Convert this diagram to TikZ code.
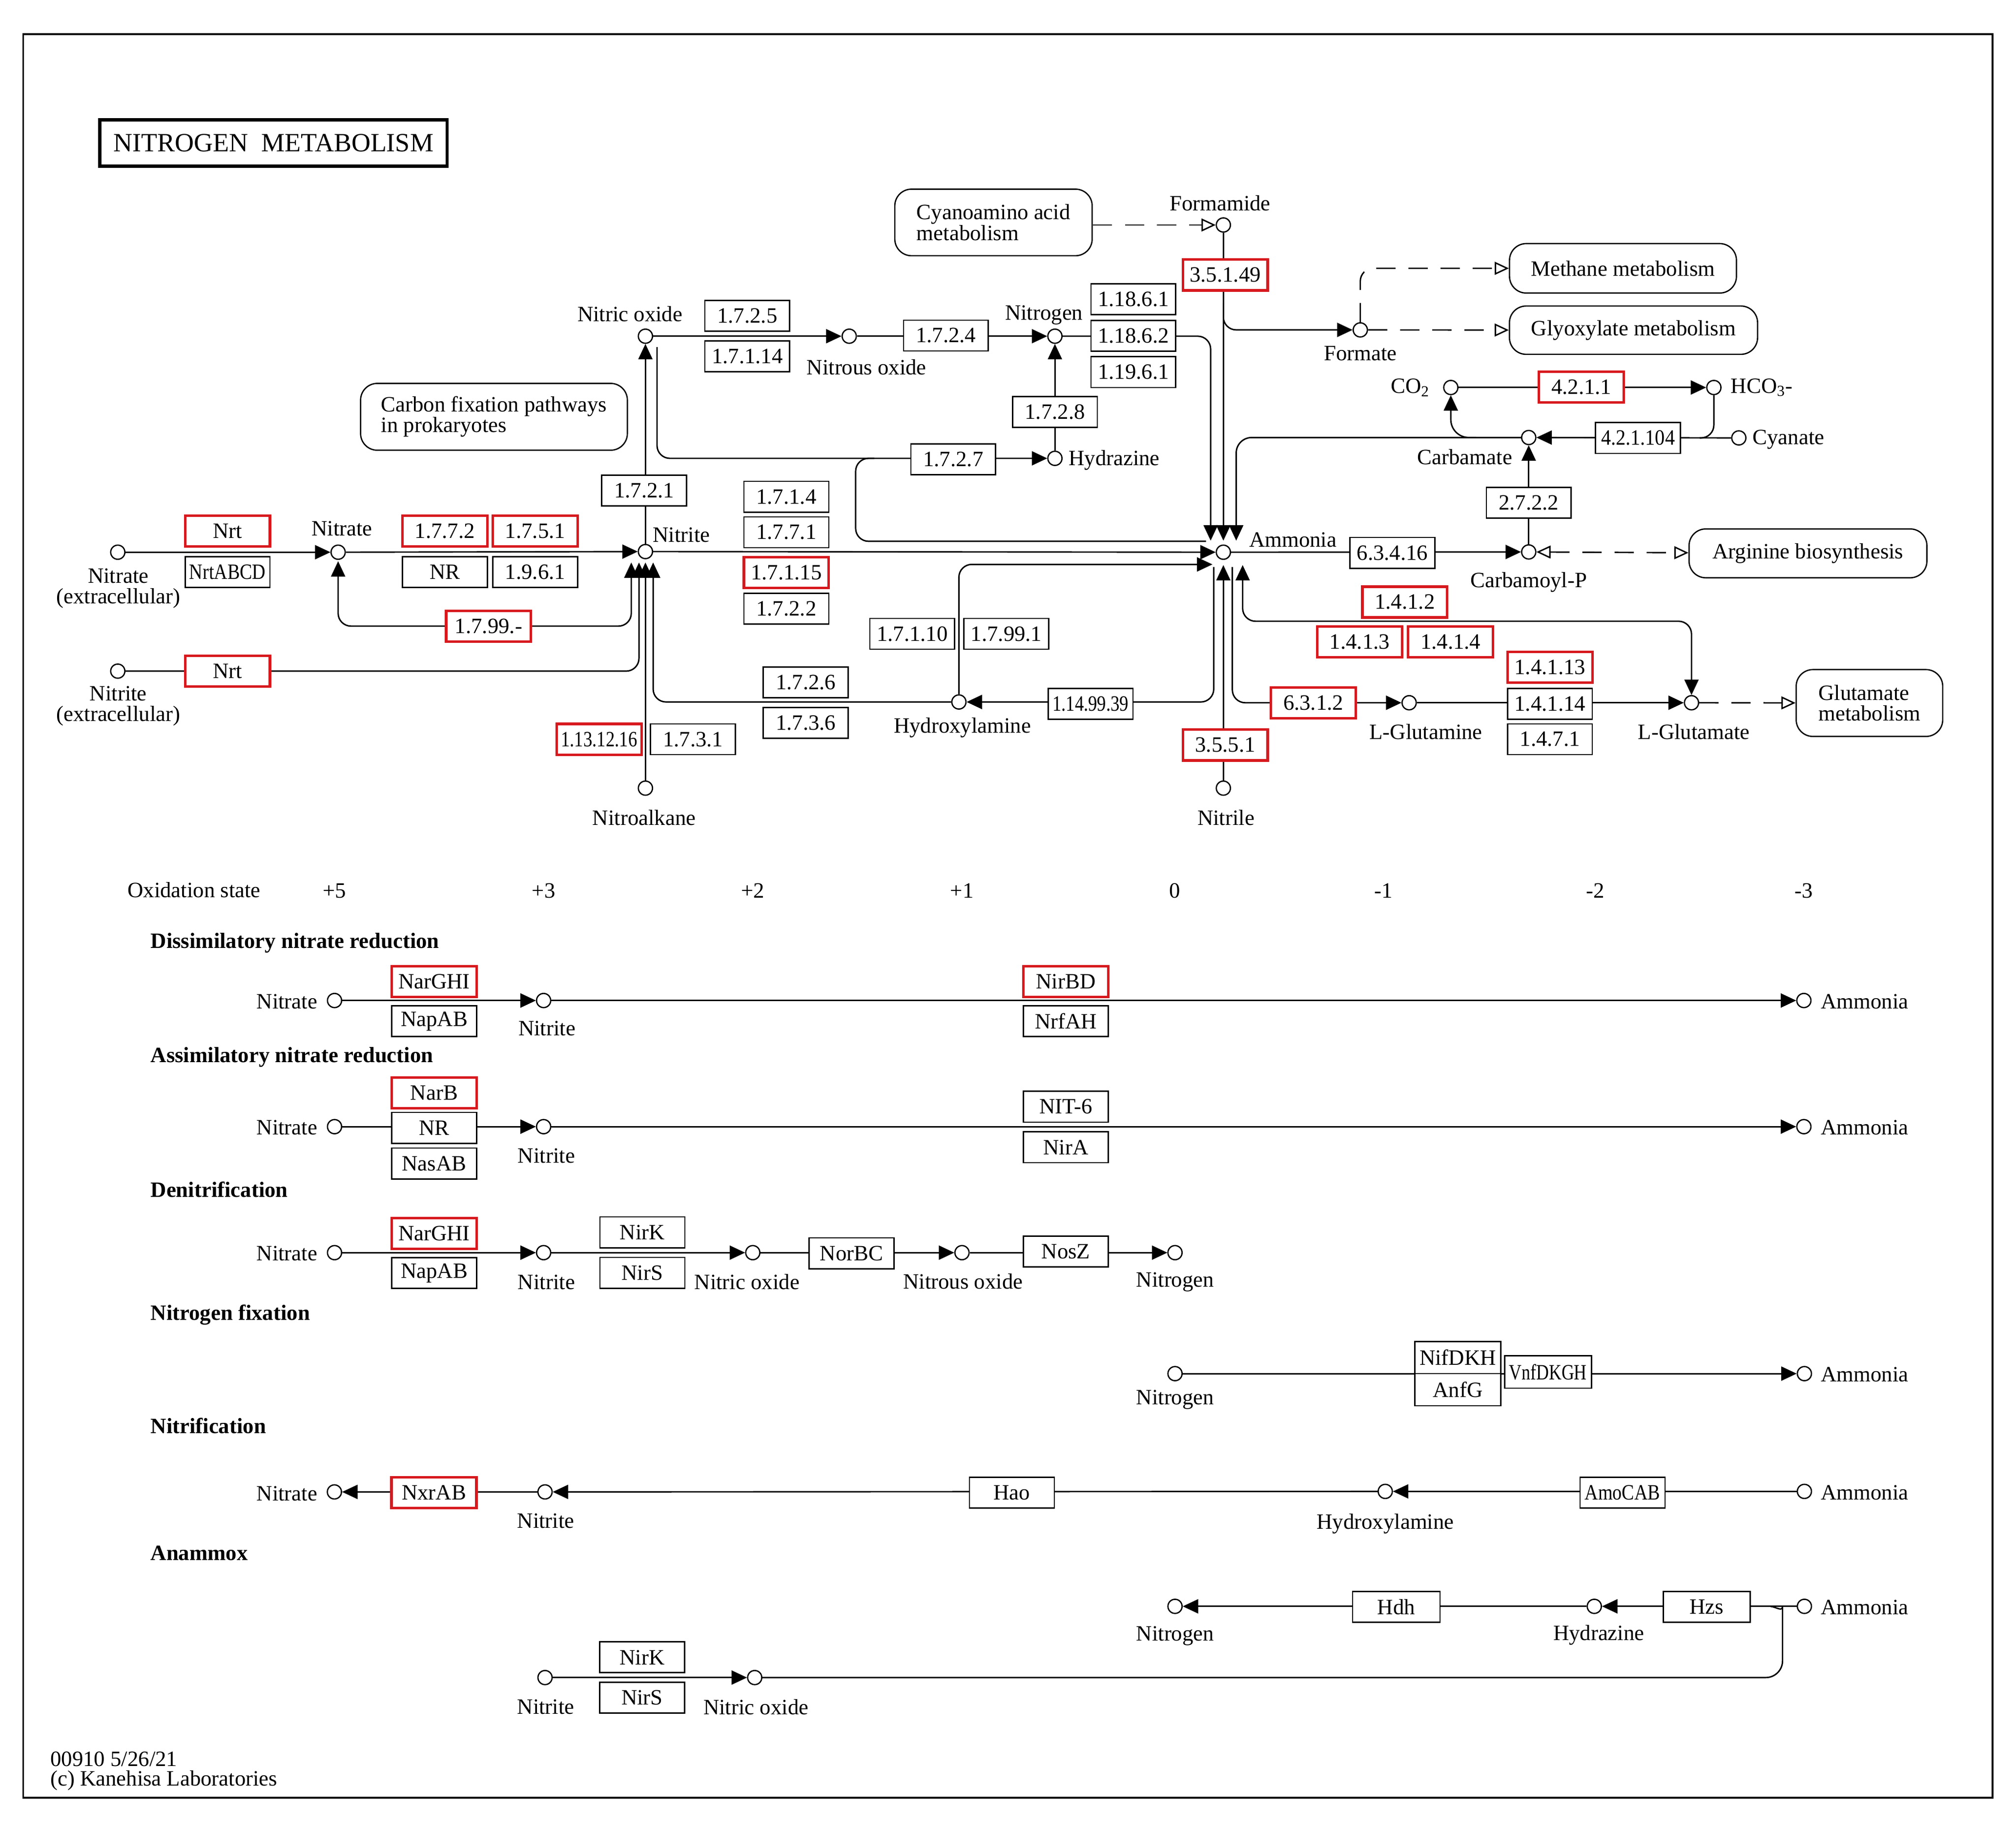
\documentclass[tikz,border=0pt]{standalone}
\usepackage{fontspec}
\setmainfont{Liberation Serif}
\usepackage{graphicx}
\usetikzlibrary{arrows.meta}
\pgfdeclarelayer{back}
\pgfdeclarelayer{bg}
\pgfsetlayers{back,bg,main}
\newcommand\fs{\fontsize{17}{16}\selectfont}
\newcommand\sq[2][0.8]{\scalebox{#1}[1]{#2}}
\definecolor{keggred}{RGB}{215,25,30}
\begin{document}
\begin{tikzpicture}[x=1pt,y=-1pt,
  every node/.style={font=\fs,inner sep=0pt},
  cpd/.style={circle,draw,line width=1pt,fill=white,minimum size=11pt},
  enz/.style={rectangle,draw,line width=1pt,fill=white,minimum width=66pt,minimum height=24pt},
  enzr/.style={enz,draw=keggred,line width=2pt},
  mapbox/.style={rectangle,rounded corners=13pt,draw,line width=1pt,fill=white,align=left},
  head/.style={anchor=west,font=\fs\bfseries},
  ln/.style={line width=1.1pt},
  arr/.style={ln,-{Triangle[length=12pt,width=11pt]}},
  arrb/.style={ln,{Triangle[length=12pt,width=11pt]}-{Triangle[length=12pt,width=11pt]}},
  darr/.style={ln,dash pattern=on 15pt off 10pt,-{Triangle[open,length=11pt,width=10pt]}},
  darrb/.style={ln,dash pattern=on 15pt off 10pt,{Triangle[open,length=11pt,width=10pt]}-{Triangle[open,length=11pt,width=10pt]}},
]
\useasboundingbox (0,0) rectangle (1568,1421.8);
\begin{pgfonlayer}{back}
\fill[white] (0,0) rectangle (1568,1421.8);
\end{pgfonlayer}

% frame and title
\draw[line width=1.3pt] (18,26.5) rectangle (1549.7,1398.3);
\node[draw,line width=2.5pt,minimum width=270pt,minimum height=36pt] (title) at (212.7,111.2)
  {\fontsize{20.5}{21}\selectfont NITROGEN\ \ METABOLISM};

% ---------------- main map: compounds ----------------
\node[cpd] (nateext) at (91.6,429.5) {};
\node[align=center] (lnateext) at (92,457.5) {Nitrate\\(extracellular)};
\node[cpd] (niteext) at (91.6,522) {};
\node[align=center] (lniteext) at (92,549) {Nitrite\\(extracellular)};
\node[cpd] (nate) at (263,429.5) {};
\node (lnate) at (266,411) {Nitrate};
\node[cpd] (nite) at (502,429) {};
\node (lnite) at (530,416) {Nitrite};
\node[cpd] (no) at (502,261.5) {};
\node (lno) at (490,244) {Nitric oxide};
\node[cpd] (ntwoo) at (660.5,261.5) {};
\node (lntwoo) at (674,285.5) {Nitrous oxide};
\node[cpd] (ntwo) at (820.5,261.5) {};
\node (lntwo) at (812,245) {Nitrogen};
\node[cpd] (hz) at (820.5,356.5) {};
\node[anchor=west] (lhz) at (831,358) {Hydrazine};
\node[cpd] (nhtwooh) at (745.8,546) {};
\node (lnhtwooh) at (748.5,566) {Hydroxylamine};
\node[cpd] (nitroalk) at (502,613) {};
\node (lnitroalk) at (501,636) {Nitroalkane};
\node[cpd] (nh3) at (951.5,429.5) {};
\node (lnh3) at (1005.6,420) {Ammonia};
\node[cpd] (formamide) at (951.5,175) {};
\node (lformamide) at (949,158) {Formamide};
\node[cpd] (formate) at (1058,256.6) {};
\node (lformate) at (1058,275) {Formate};
\node[cpd] (co2) at (1128.4,301.4) {};
\node[anchor=east] (lco2) at (1112,301.4) {CO\textsubscript{2}};
\node[cpd] (hco3) at (1333,301.4) {};
\node[anchor=west] (lhco3) at (1346,301.4) {HCO\textsubscript{3}-};
\node[cpd] (cyanate) at (1352.4,340.6) {};
\node[anchor=west] (lcyanate) at (1363,342) {Cyanate};
\node[cpd] (carbamate) at (1189,340.3) {};
\node (lcarbamate) at (1139.3,355.5) {Carbamate};
\node[cpd] (carbp) at (1189,429.3) {};
\node (lcarbp) at (1189,452.8) {Carbamoyl-P};
\node[cpd] (gln) at (1096,546.6) {};
\node (lgln) at (1109,569) {L-Glutamine};
\node[cpd] (glu) at (1315.6,546.6) {};
\node (lglu) at (1317.5,569) {L-Glutamate};
\node[cpd] (nitrile) at (951.5,613) {};
\node (lnitrile) at (953.5,636) {Nitrile};

% ---------------- main map: maps ----------------
\node[mapbox,minimum width=153.5pt,minimum height=51.8pt] (cyano) at (772.7,173) {Cyanoamino acid\\metabolism};
\node[mapbox,minimum width=207.5pt,minimum height=52pt] (carbfix) at (384.2,324.2) {Carbon fixation pathways\\in prokaryotes};
\node[mapbox,minimum width=176.5pt,minimum height=38.5pt] (methane) at (1262.3,208.7) {Methane metabolism};
\node[mapbox,minimum width=193pt,minimum height=37.6pt] (glyox) at (1270.5,256.8) {Glyoxylate metabolism};
\node[mapbox,minimum width=185pt,minimum height=38pt] (arg) at (1406.2,430.4) {Arginine biosynthesis};
\node[mapbox,minimum width=114pt,minimum height=52pt] (glumap) at (1454,546.8) {Glutamate\\metabolism};

% ---------------- main map: enzymes ----------------
\node[enzr] (nrta) at (177,413) {Nrt};
\node[enz] (nrtabcd) at (177,445) {\sq[0.85]{NrtABCD}};
\node[enzr] (nrtb) at (177,522) {Nrt};
\node[enzr] (e1772) at (346,413) {1.7.7.2};
\node[enzr] (e1751) at (416.3,413) {1.7.5.1};
\node[enz] (enr) at (346,445) {NR};
\node[enz] (e1961) at (416.3,445) {1.9.6.1};
\node[enzr] (e1799m) at (380,487) {1.7.99.-};
\node[enz] (e1721) at (501,381.5) {1.7.2.1};
\node[enz] (e1725) at (581.2,245.7) {1.7.2.5};
\node[enz] (e17114) at (581.2,277.2) {1.7.1.14};
\node[enz] (e1724) at (735.7,261) {1.7.2.4};
\node[enz] (e11861) at (881.5,232.7) {1.18.6.1};
\node[enz] (e11862) at (881.5,261.2) {1.18.6.2};
\node[enz] (e11961) at (881.5,289.4) {1.19.6.1};
\node[enz] (e1728) at (820.5,320.5) {1.7.2.8};
\node[enz] (e1727) at (741.4,357.3) {1.7.2.7};
\node[enz] (e1714) at (611.6,386.4) {1.7.1.4};
\node[enz] (e1771) at (611.6,414) {1.7.7.1};
\node[enzr] (e17115) at (611.6,445.3) {1.7.1.15};
\node[enz] (e1722) at (611.6,473.5) {1.7.2.2};
\node[enz] (e17110) at (709.5,493) {1.7.1.10};
\node[enz] (e17991) at (782.7,493) {1.7.99.1};
\node[enz] (e1726) at (626.7,530.7) {1.7.2.6};
\node[enz] (e1736) at (626.7,562.3) {1.7.3.6};
\node[enz] (e1149939) at (848.2,547.5) {\sq[0.82]{1.14.99.39}};
\node[enzr] (e1131216) at (466,575) {\sq[0.82]{1.13.12.16}};
\node[enz] (e1731) at (539,575) {1.7.3.1};
\node[enzr] (e35149) at (953,213.9) {3.5.1.49};
\node[enzr] (e3551) at (953,579.5) {3.5.5.1};
\node[enzr] (e4211) at (1230,301) {4.2.1.1};
\node[enz] (e421104) at (1274,340.7) {\sq[0.9]{4.2.1.104}};
\node[enz] (e2722) at (1189,391) {2.7.2.2};
\node[enz] (e63416) at (1083,430) {6.3.4.16};
\node[enzr] (e1412) at (1092.6,468.3) {1.4.1.2};
\node[enzr] (e1413) at (1057.5,499.3) {1.4.1.3};
\node[enzr] (e1414) at (1128.2,499.3) {1.4.1.4};
\node[enzr] (e14113) at (1205.5,519) {1.4.1.13};
\node[enz] (e14114) at (1205.5,547.5) {1.4.1.14};
\node[enz] (e1471) at (1205.5,575) {1.4.7.1};
\node[enzr] (e6312) at (1021.5,546.8) {6.3.1.2};

% connector end points
\coordinate (nateB) at (263,436.5);
\coordinate (niteB1) at (491,437.5);
\coordinate (niteB2) at (497,437.5);
\coordinate (niteB3) at (502,437.5);
\coordinate (niteB4) at (508,437.5);
\coordinate (noS) at (511,270);
\coordinate (brA) at (680,356.5);
\coordinate (brB) at (665.5,421);
\coordinate (brE) at (938,421);
\coordinate (nhT1) at (941.6,420.5);
\coordinate (nhT2) at (951.5,420.5);
\coordinate (nhT3) at (961.5,420.5);
\coordinate (nhL2) at (943,439);
\coordinate (nhB1) at (944,441);
\coordinate (nhB2) at (951.5,439.5);
\coordinate (nhB3) at (958.5,441);
\coordinate (nhB4) at (966.5,439.5);
\coordinate (gluC) at (1315.6,483.2);
\coordinate (fmS) at (951.5,236);
\coordinate (hcoJ) at (1322,340.6);
\coordinate (co2J) at (1148,340.3);

% ---------------- lower part: labels ----------------
\node (ox) at (150.9,692) {Oxidation state};
\node (oxa) at (260,692.8) {+5};
\node (oxb) at (422.8,692.8) {+3};
\node (oxc) at (585.5,692.8) {+2};
\node (oxd) at (748.2,692.8) {+1};
\node (oxe) at (913.9,692.8) {0};
\node (oxf) at (1076,692.8) {-1};
\node (oxg) at (1240.8,692.8) {-2};
\node (oxh) at (1403,692.8) {-3};

\node[head] (h1) at (117,733.5) {Dissimilatory nitrate reduction};
\node[head] (h2) at (117,822.2) {Assimilatory nitrate reduction};
\node[head] (h3) at (117,925.3) {Denitrification};
\node[head] (h4) at (117,1022.6) {Nitrogen fixation};
\node[head] (h5) at (117,1109) {Nitrification};
\node[head] (h6) at (117,1208.2) {Anammox};

% Dissimilatory
\node[cpd] (dnate) at (260.2,778.2) {};
\node[anchor=east] (ldnate) at (247,779) {Nitrate};
\node[enzr] (dnar) at (337.7,763.5) {NarGHI};
\node[enz] (dnap) at (337.7,794.3) {NapAB};
\node[cpd] (dnite) at (422.8,778.2) {};
\node (ldnite) at (425.4,800) {Nitrite};
\node[enzr] (dnirbd) at (829,763.5) {NirBD};
\node[enz] (dnrf) at (829,794.3) {NrfAH};
\node[cpd] (dnh) at (1403,778.2) {};
\node[anchor=west] (ldnh) at (1416,779) {Ammonia};

% Assimilatory
\node[cpd] (anate) at (260.2,876.3) {};
\node[anchor=east] (lanate) at (247,877) {Nitrate};
\node[enzr] (anarb) at (337.7,850) {NarB};
\node[enz] (anr) at (337.7,877.3) {NR};
\node[enz] (anas) at (337.7,905) {NasAB};
\node[cpd] (anite) at (422.8,876.3) {};
\node (lanite) at (425,899) {Nitrite};
\node[enz] (anit) at (829,860.8) {NIT-6};
\node[enz] (anira) at (829,892.3) {NirA};
\node[cpd] (anh) at (1403,876.3) {};
\node[anchor=west] (lanh) at (1416,877) {Ammonia};

% Denitrification
\node[cpd] (tnate) at (260.2,974.3) {};
\node[anchor=east] (ltnate) at (247,975) {Nitrate};
\node[enzr] (tnar) at (337.7,959.4) {NarGHI};
\node[enz] (tnap) at (337.7,990.2) {NapAB};
\node[cpd] (tnite) at (422.8,974.3) {};
\node (ltnite) at (425,997.2) {Nitrite};
\node[enz] (tnirk) at (499.6,958.5) {NirK};
\node[enz] (tnirs) at (499.6,990) {NirS};
\node[cpd] (tno) at (585.5,974.3) {};
\node (ltno) at (581,997.2) {Nitric oxide};
\node[enz] (tnor) at (662.3,974.8) {NorBC};
\node[cpd] (tntwoo) at (748.2,974.3) {};
\node (ltntwoo) at (749,996.5) {Nitrous oxide};
\node[enz] (tnos) at (829,973.5) {NosZ};
\node[cpd] (tntwo) at (913.9,974.3) {};
\node (ltntwo) at (914,997) {Nitrogen};

% Nitrogen fixation
\node[cpd] (fntwo) at (913.9,1068.4) {};
\node (lfntwo) at (914,1088.7) {Nitrogen};
\node[enz,minimum width=66.7pt,minimum height=25pt] (fnif) at (1133.8,1055.9) {NifDKH};
\node[enz,minimum width=66.7pt,minimum height=25pt] (fanf) at (1133.8,1080.9) {AnfG};
\node[enz,minimum width=67.6pt,minimum height=25.4pt] (fvnf) at (1204,1067.1) {\sq{VnfDKGH}};
\node[cpd] (fnh) at (1403.4,1068.4) {};
\node[anchor=west] (lfnh) at (1416,1069) {Ammonia};

% Nitrification
\node[cpd] (nnate) at (260.1,1160.4) {};
\node[anchor=east] (lnnate) at (247,1161.7) {Nitrate};
\node[enzr] (nnxr) at (337.5,1161) {NxrAB};
\node[cpd] (nnite) at (423.9,1160.4) {};
\node (lnnite) at (424.5,1182.8) {Nitrite};
\node[enz] (nhao) at (787,1161) {Hao};
\node[cpd] (nnhoh) at (1077.4,1160) {};
\node (lnnhoh) at (1077.5,1185.3) {Hydroxylamine};
\node[enz] (namo) at (1262,1161) {\sq[0.85]{AmoCAB}};
\node[cpd] (nnh) at (1403.4,1160) {};
\node[anchor=west] (lnnh) at (1416,1161) {Ammonia};

% Anammox
\node[cpd] (xntwo) at (913.9,1249.4) {};
\node (lxntwo) at (914,1272.5) {Nitrogen};
\node[enz,minimum width=68pt] (xhdh) at (1086,1249.9) {Hdh};
\node[cpd] (xhz) at (1240,1249.4) {};
\node (lxhz) at (1243.5,1271.7) {Hydrazine};
\node[enz,minimum width=67.6pt] (xhzs) at (1327.4,1249.9) {Hzs};
\node[cpd] (xnh) at (1403.4,1249.4) {};
\node[anchor=west] (lxnh) at (1416,1250) {Ammonia};
\node[cpd] (xnite) at (423.9,1304.8) {};
\node (lxnite) at (424.5,1327.7) {Nitrite};
\node[enz] (xnirk) at (499.4,1289) {NirK};
\node[enz] (xnirs) at (499.4,1320.5) {NirS};
\node[cpd] (xno) at (587,1304.8) {};
\node (lxno) at (588,1327.7) {Nitric oxide};
\coordinate (xJ) at (1377,1249.4);

% footer
\node[anchor=west] (foot1) at (39,1368.3) {00910 5/26/21};
\node[anchor=west] (foot2) at (39,1384.8) {(c) Kanehisa Laboratories};

% ---------------- connectors ----------------
\begin{pgfonlayer}{bg}
\draw[arr] (nateext) -- (nate);
\draw[arr] (nate) -- (nite);
\draw[arrb,rounded corners=10pt] (nateB) |- (e1799m.center) -| (niteB1);
\draw[arr,rounded corners=10pt] (niteext) -| (niteB2);
\draw[arr] (nitroalk) -- (niteB3);
\draw[arr,rounded corners=10pt] (nhtwooh) -| (niteB4);
\draw[arr] (nite) -- (no);
\draw[arr] (no) -- (ntwoo);
\draw[arr] (ntwoo) -- (ntwo);
\draw[arr] (hz) -- (ntwo);
\draw[arr,rounded corners=10pt] (noS) |- (hz);
\draw[ln,rounded corners=10pt] (brA) -| (brB) -- (brE);
\draw[arr] (nite) -- (nh3);
\draw[arr,rounded corners=10pt] (nhtwooh) |- (nhL2);
\draw[arr,rounded corners=10pt] (ntwo) -| (nhT1);
\draw[arr] (formamide) -- (nhT2);
\draw[arr,rounded corners=12pt] (carbamate) -| (nhT3);
\draw[arr] (nitrile) -- (nhB2);
\draw[arrb,rounded corners=10pt] (nhB4) |- (gluC) -- (glu);
\draw[arr,rounded corners=10pt] (nhB1) |- (nhtwooh);
\draw[arr,rounded corners=10pt] (nhB3) |- (gln);
\draw[arr] (gln) -- (glu);
\draw[arr] (nh3) -- (carbp);
\draw[arr] (carbp) -- (carbamate);
\draw[arr] (cyanate) -- (carbamate);
\draw[ln,rounded corners=10pt] (hco3) |- (hcoJ);
\draw[arr] (co2) -- (hco3);
\draw[arr,rounded corners=14pt] (co2J) -| (co2);
\draw[arr,rounded corners=10pt] (fmS) |- (formate);
\draw[darr] (cyano.east |- formamide) -- (formamide);
\draw[darr,rounded corners=10pt] (formate) |- (methane);
\draw[darr] (formate) -- (glyox);
\draw[darrb] (carbp) -- (arg);
\draw[darr] (glu) -- (glumap);
% lower part
\draw[arr] (dnate) -- (dnite);
\draw[arr] (dnite) -- (dnh);
\draw[arr] (anate) -- (anite);
\draw[arr] (anite) -- (anh);
\draw[arr] (tnate) -- (tnite);
\draw[arr] (tnite) -- (tno);
\draw[arr] (tno) -- (tntwoo);
\draw[arr] (tntwoo) -- (tntwo);
\draw[arr] (fntwo) -- (fnh);
\draw[arr] (nnh) -- (nnhoh);
\draw[arr] (nnhoh) -- (nnite);
\draw[arr] (nnite) -- (nnate);
\draw[arr] (xnh) -- (xhz);
\draw[arr] (xhz) -- (xntwo);
\draw[arr] (xnite) -- (xno);
\draw[ln,rounded corners=13pt] (xno) -| (1386.4,1262) [sharp corners] .. controls (1386.4,1254) and (1382,1250) .. (xJ);
\end{pgfonlayer}
\end{tikzpicture}
\end{document}
